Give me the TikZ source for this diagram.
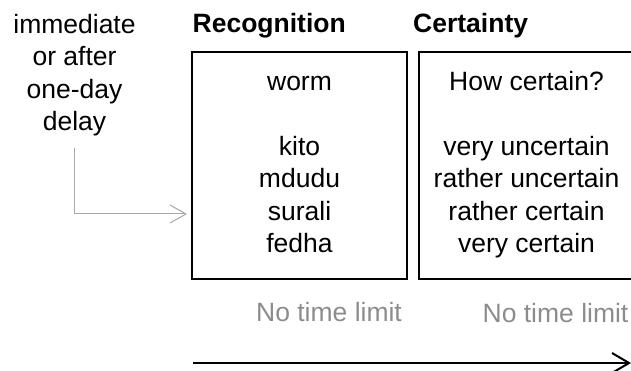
\documentclass[tikz,border=0pt]{standalone}
\usepackage{fontspec}
\setmainfont{Liberation Sans}
\usetikzlibrary{arrows.meta}
\definecolor{labelgray}{HTML}{8C8C8C}
\definecolor{arrowgray}{HTML}{A8A8A8}
\begin{document}
\begin{tikzpicture}[x=1pt,y=-1pt,
  txt/.style={inner sep=0pt, align=center, anchor=north,
    font=\fontsize{26.5}{32.5}\selectfont},
  head/.style={inner sep=0pt, anchor=base west,
    font=\fontsize{26.5}{32.5}\selectfont\bfseries},
  note/.style={inner sep=0pt, anchor=base, text=labelgray,
    font=\fontsize{26.5}{32.5}\selectfont},
  panel/.style={draw=black, line width=2pt, minimum width=215pt,
    minimum height=227pt, inner sep=0pt},
  garrow/.style={draw=arrowgray, line width=1pt,
    -{Straight Barb[length=16pt,width=18pt,line width=1pt]}},
  karrow/.style={draw=black, line width=2pt,
    -{Straight Barb[length=17pt,width=20pt,line width=2pt]}}
]
\useasboundingbox (0,0) rectangle (631,371);
% boxes
\node[panel] (rec) at (299.5,165.8) {};
\node[panel] (cer) at (526.5,165.8) {};
% headings
\node[head] (rechead) at (192.5,33) {Recognition};
\node[head] (cerhead) at (413,33) {Certainty};
% left text
\node[txt] (delay) at (74.5,33-22.75) {\strut immediate\\or after\\one-day\\delay};
% box contents
\node[txt] (words) at (299.5,90-22.75) {\strut worm\\[32.5pt]kito\\mdudu\\surali\\fedha};
\node[txt] (scale) at (526.5,90-22.75) {\strut How certain?\\[32.5pt]very uncertain\\rather uncertain\\rather certain\\very certain};
% notes
\node[note] (n1) at (329,321) {No time limit};
\node[note] (n2) at (555.5,322) {No time limit};
% gray arrow
\coordinate (gstart) at (74,148);
\coordinate (gtip) at (187,214);
\draw[garrow] (gstart) |- (gtip);
% time arrow
\coordinate (tstart) at (193,363);
\coordinate (tend) at (631,363);
\draw[karrow] (tstart) -- (tend);
\end{tikzpicture}
\end{document}
